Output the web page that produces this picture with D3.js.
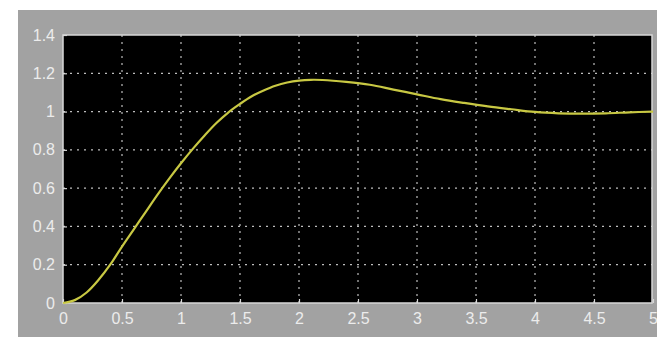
<!DOCTYPE html>
<html>
<head>
<meta charset="utf-8">
<script src="https://cdn.jsdelivr.net/npm/d3@7/dist/d3.min.js"></script>
<style>
  body { margin: 0; background: #fff; }
  svg { display: block; }
  .tick text { font-family: "Liberation Sans", Arial, sans-serif; }
</style>
</head>
<body>
<svg id="chart" width="657" height="337"></svg>
<script>
// step response
var times  = [0, 0.1, 0.2, 0.3, 0.4, 0.5, 0.6, 0.7, 0.8, 0.9, 1.0, 1.1, 1.2, 1.3, 1.4, 1.5, 1.6, 1.7, 1.8, 1.9, 2.0, 2.1, 2.2, 2.4, 2.6, 2.8, 3.0, 3.2, 3.4, 3.6, 3.8, 4.0, 4.2, 4.4, 4.6, 4.8, 5.0]
var output = [0, 0.015, 0.055, 0.12, 0.2, 0.295, 0.385, 0.475, 0.565, 0.65, 0.73, 0.805, 0.875, 0.94, 0.995, 1.04, 1.08, 1.11, 1.135, 1.152, 1.162, 1.166, 1.165, 1.155, 1.14, 1.115, 1.09, 1.065, 1.045, 1.027, 1.012, 0.998, 0.991, 0.989, 0.991, 0.996, 1.0]
var xTicks = [0, 0.5, 1, 1.5, 2, 2.5, 3, 3.5, 4, 4.5, 5]
var yTicks = [0, 0.2, 0.4, 0.6, 0.8, 1, 1.2, 1.4]

var svg = d3.select('#chart')
var plotL = 63, plotR = 652, plotT = 35, plotB = 303

// grey scope window
svg.append('rect')
  .attr('x', 18).attr('y', 10)
  .attr('width', 639).attr('height', 327)
  .attr('fill', '#a2a2a2')

var x = d3.scaleLinear().domain([0, 5]).range([plotL, plotL + 590])
var y = d3.scaleLinear().domain([0, 1.4]).range([plotB, plotT])

svg.append('rect')
  .attr('x', plotL).attr('y', plotT)
  .attr('width', plotR - plotL).attr('height', plotB - plotT)
  .attr('fill', '#000')

// dotted grid
svg.append('g')
  .selectAll('line')
  .data(xTicks.slice(1, -1))
  .enter()
  .append('line')
  .attr('x1', function(d){ return x(d) })
  .attr('x2', function(d){ return x(d) })
  .attr('y1', plotT).attr('y2', plotB)
  .attr('stroke', '#bdbdbd')
  .attr('stroke-width', 1.2)
  .attr('stroke-dasharray', '2,5')

svg.append('g')
  .selectAll('line')
  .data(yTicks.slice(1, -1))
  .enter()
  .append('line')
  .attr('y1', function(d){ return y(d) })
  .attr('y2', function(d){ return y(d) })
  .attr('x1', plotL).attr('x2', plotR)
  .attr('stroke', '#bdbdbd')
  .attr('stroke-width', 1.2)
  .attr('stroke-dasharray', '2,5')

// frame
svg.append('rect')
  .attr('x', plotL).attr('y', plotT)
  .attr('width', plotR - plotL).attr('height', plotB - plotT)
  .attr('fill', 'none')
  .attr('stroke', '#d8d8d8')
  .attr('stroke-width', 1.5)

var xAxis = d3.axisBottom(x).tickValues(xTicks)
  .tickFormat(function(d){ return String(d) })
  .tickSize(-4).tickPadding(10)
var yAxis = d3.axisLeft(y).tickValues(yTicks)
  .tickFormat(function(d){ return String(d) })
  .tickSize(-4).tickPadding(8)

var gx = svg.append('g').attr('transform', 'translate(0,' + plotB + ')').call(xAxis)
var gy = svg.append('g').attr('transform', 'translate(' + plotL + ',0)').call(yAxis)

;[gx, gy].forEach(function(g){
  g.select('.domain').remove()
  g.selectAll('.tick line').attr('stroke', '#d8d8d8').attr('stroke-width', 1.2)
  g.selectAll('.tick text')
    .attr('fill', '#ececec')
    .style('font-size', '16px')
})

// response curve
var line = d3.line()
  .x(function(d, i){ return x(times[i]) })
  .y(function(d){ return y(d) })
  .curve(d3.curveCatmullRom)

svg.append('path')
  .datum(output)
  .attr('d', line)
  .attr('fill', 'none')
  .attr('stroke', '#c8c843')
  .attr('stroke-width', 2.2)
</script>
</body>
</html>
